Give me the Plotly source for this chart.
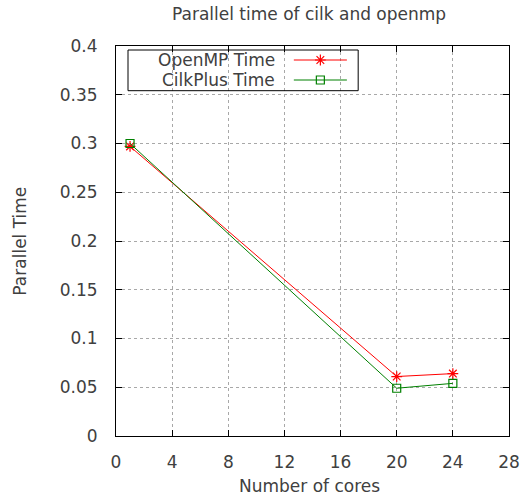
import plotly.graph_objects as go

cores = [1, 20, 24]
openmp_time = [0.297, 0.061, 0.064]
cilk_time = [0.300, 0.049, 0.054]
series_names = ["OpenMP Time", "CilkPlus Time"]
x_ticks = [0, 4, 8, 12, 16, 20, 24, 28]
y_ticks = [0, 0.05, 0.1, 0.15, 0.2, 0.25, 0.3, 0.35, 0.4]
y_tick_text = ["0", "0.05", "0.1", "0.15", "0.2", "0.25", "0.3", "0.35", "0.4"]

FONT = "DejaVu Sans"
TXT = "#404040"
RED = "#ff0000"
GREEN = "#008000"
FS = 17

fig = go.Figure()
fig.add_trace(go.Scatter(x=cores, y=openmp_time, mode="lines+markers", name=series_names[0],
                         line=dict(color=RED, width=1),
                         marker=dict(symbol="asterisk-open", size=9, color=RED, line=dict(color=RED, width=1.2)),
                         showlegend=False))
fig.add_trace(go.Scatter(x=cores, y=cilk_time, mode="lines+markers", name=series_names[1],
                         line=dict(color=GREEN, width=1),
                         marker=dict(symbol="square-open", size=8, color=GREEN, line=dict(color=GREEN, width=1.2)),
                         showlegend=False))

# plot-area geometry (pixels)
L, R, T, B = 116.3, 509.0, 46.0, 436.0


def px(xp):
    return (xp - L) / (R - L)


def py(yp):
    return (B - yp) / (B - T)


# gnuplot-style legend in an overlay pixel-space axis
leg_rows = [60, 80]
colors = [RED, GREEN]
symbols = ["asterisk-open", "square-open"]
sizes = [9, 8]
for i in range(2):
    fig.add_trace(go.Scatter(x=[294, 347], y=[leg_rows[i]] * 2, mode="lines", xaxis="x2", yaxis="y2",
                             line=dict(color=colors[i], width=1), showlegend=False, hoverinfo="skip"))
    fig.add_trace(go.Scatter(x=[320.5], y=[leg_rows[i]], mode="markers", xaxis="x2", yaxis="y2",
                             marker=dict(symbol=symbols[i], size=sizes[i], color=colors[i],
                                         line=dict(color=colors[i], width=1.2)),
                             showlegend=False, hoverinfo="skip"))
    fig.add_annotation(x=277, y=leg_rows[i], xref="x2", yref="y2", text=series_names[i], showarrow=False,
                       xanchor="right", yanchor="middle", font=dict(family=FONT, size=FS, color=TXT))
fig.add_shape(type="rect", xref="x2", yref="y2", x0=128.3, x1=358.3, y0=50, y1=90.7,
              line=dict(color="black", width=1), fillcolor="rgba(0,0,0,0)")

fig.add_annotation(x=px(309.5), y=py(14), xref="paper", yref="paper", text="Parallel time of cilk and openmp",
                   showarrow=False, xanchor="center", yanchor="middle",
                   font=dict(family=FONT, size=FS, color=TXT))
fig.add_annotation(x=px(310), y=py(486), xref="paper", yref="paper", text="Number of cores",
                   showarrow=False, xanchor="center", yanchor="middle",
                   font=dict(family=FONT, size=FS, color=TXT))
fig.add_annotation(x=px(20), y=py(241), xref="paper", yref="paper", text="Parallel Time", textangle=-90,
                   showarrow=False, xanchor="center", yanchor="middle",
                   font=dict(family=FONT, size=FS, color=TXT))

axis_common = dict(showline=True, linecolor="black", linewidth=1, mirror="ticks", ticks="inside",
                   ticklen=6, tickcolor="black", showgrid=True, gridcolor="#a8a8a8", griddash="dot",
                   gridwidth=1, zeroline=False, automargin=False,
                   tickfont=dict(family=FONT, size=FS, color=TXT))

fig.update_layout(
    width=520, height=500,
    margin=dict(l=L, r=520 - R, t=T, b=500 - B),
    paper_bgcolor="white", plot_bgcolor="white",
    xaxis=dict(range=[0, 28], tickvals=x_ticks, ticklabelstandoff=11, **axis_common),
    yaxis=dict(range=[0, 0.4], tickvals=y_ticks, ticktext=y_tick_text, ticklabelstandoff=14, **axis_common),
    xaxis2=dict(range=[L, R], overlaying="x", visible=False, fixedrange=True),
    yaxis2=dict(range=[B, T], overlaying="y", visible=False, fixedrange=True),
)

fig.write_html("out.html", config={"displayModeBar": False},
               post_script="document.body.style.margin='0';document.body.style.overflow='hidden';")
